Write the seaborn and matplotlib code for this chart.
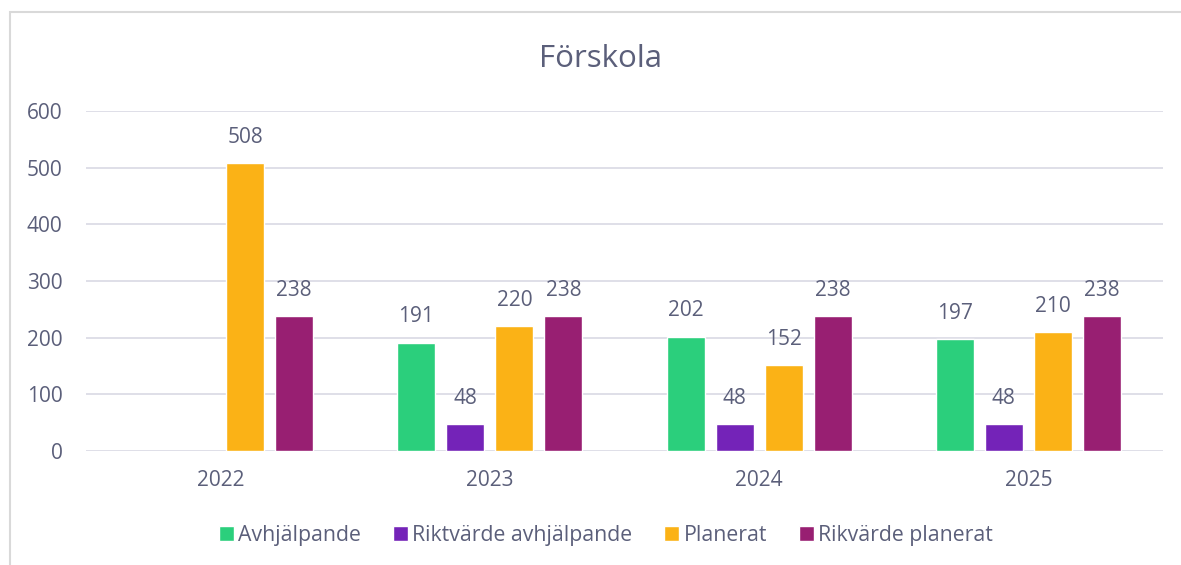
import numpy as np
import pandas as pd
import seaborn as sns
import matplotlib.pyplot as plt
from matplotlib.patches import Rectangle

years = ['2022', '2023', '2024', '2025']
series = ['Avhjälpande', 'Riktvärde avhjälpande', 'Planerat', 'Rikvärde planerat']
avhjalpande = [np.nan, 191, 202, 197]
riktvarde_avhj = [np.nan, 48, 48, 48]
planerat = [508, 220, 152, 210]
rikvarde_plan = [238, 238, 238, 238]
colors = ['#2bcf7c', '#7423b8', '#fbb216', '#981f72']

rows = []
for name, vals in zip(series, [avhjalpande, riktvarde_avhj, planerat, rikvarde_plan]):
    for y, v in zip(years, vals):
        rows.append({'År': y, 'Serie': name, 'Värde': v})
df = pd.DataFrame(rows)

sns.set_theme(style='white')
plt.rcParams['font.family'] = ['Open Sans', 'DejaVu Sans']
txt = '#5b5f7a'

fig = plt.figure(figsize=(11.81, 5.65), dpi=100)
ax = fig.add_axes([86 / 1181, 0.2018, 1077 / 1181, 0.6017])
sns.barplot(data=df, x='År', y='Värde', hue='Serie', hue_order=series,
            palette=colors, width=0.728, gap=0.22, ax=ax, saturation=1, legend=True)

for cont in ax.containers:
    ax.bar_label(cont, fmt='%.0f', padding=11, fontsize=15, color=txt)

ax.set_ylim(0, 600)
ax.set_yticks(range(0, 601, 100))
ax.grid(axis='y', color='#dcdce6', linewidth=1.3)
ax.set_axisbelow(True)
for s in ax.spines.values():
    s.set_visible(False)
ax.tick_params(axis='both', length=0, labelsize=15, labelcolor=txt)
ax.tick_params(axis='y', pad=17)
ax.tick_params(axis='x', pad=14)
ax.set_xlabel('')
ax.set_ylabel('')
ax.set_title('Förskola', fontsize=22.5, color=txt, pad=32, x=(601 - 86) / 1077)

ax.legend(loc='center', bbox_to_anchor=(606 / 1181, 0.053), bbox_transform=fig.transFigure,
          ncol=4, frameon=False, fontsize=15.3, labelcolor=txt,
          handlelength=0.7, handleheight=0.7, handletextpad=0.2, columnspacing=1.5)

fig.patches.append(Rectangle((10 / 1181, -0.1), 1.2, 1.1 - 12 / 565, transform=fig.transFigure,
                             fill=False, edgecolor='#d9d9d9', linewidth=1.5))

fig.savefig('out.png', dpi=100)
